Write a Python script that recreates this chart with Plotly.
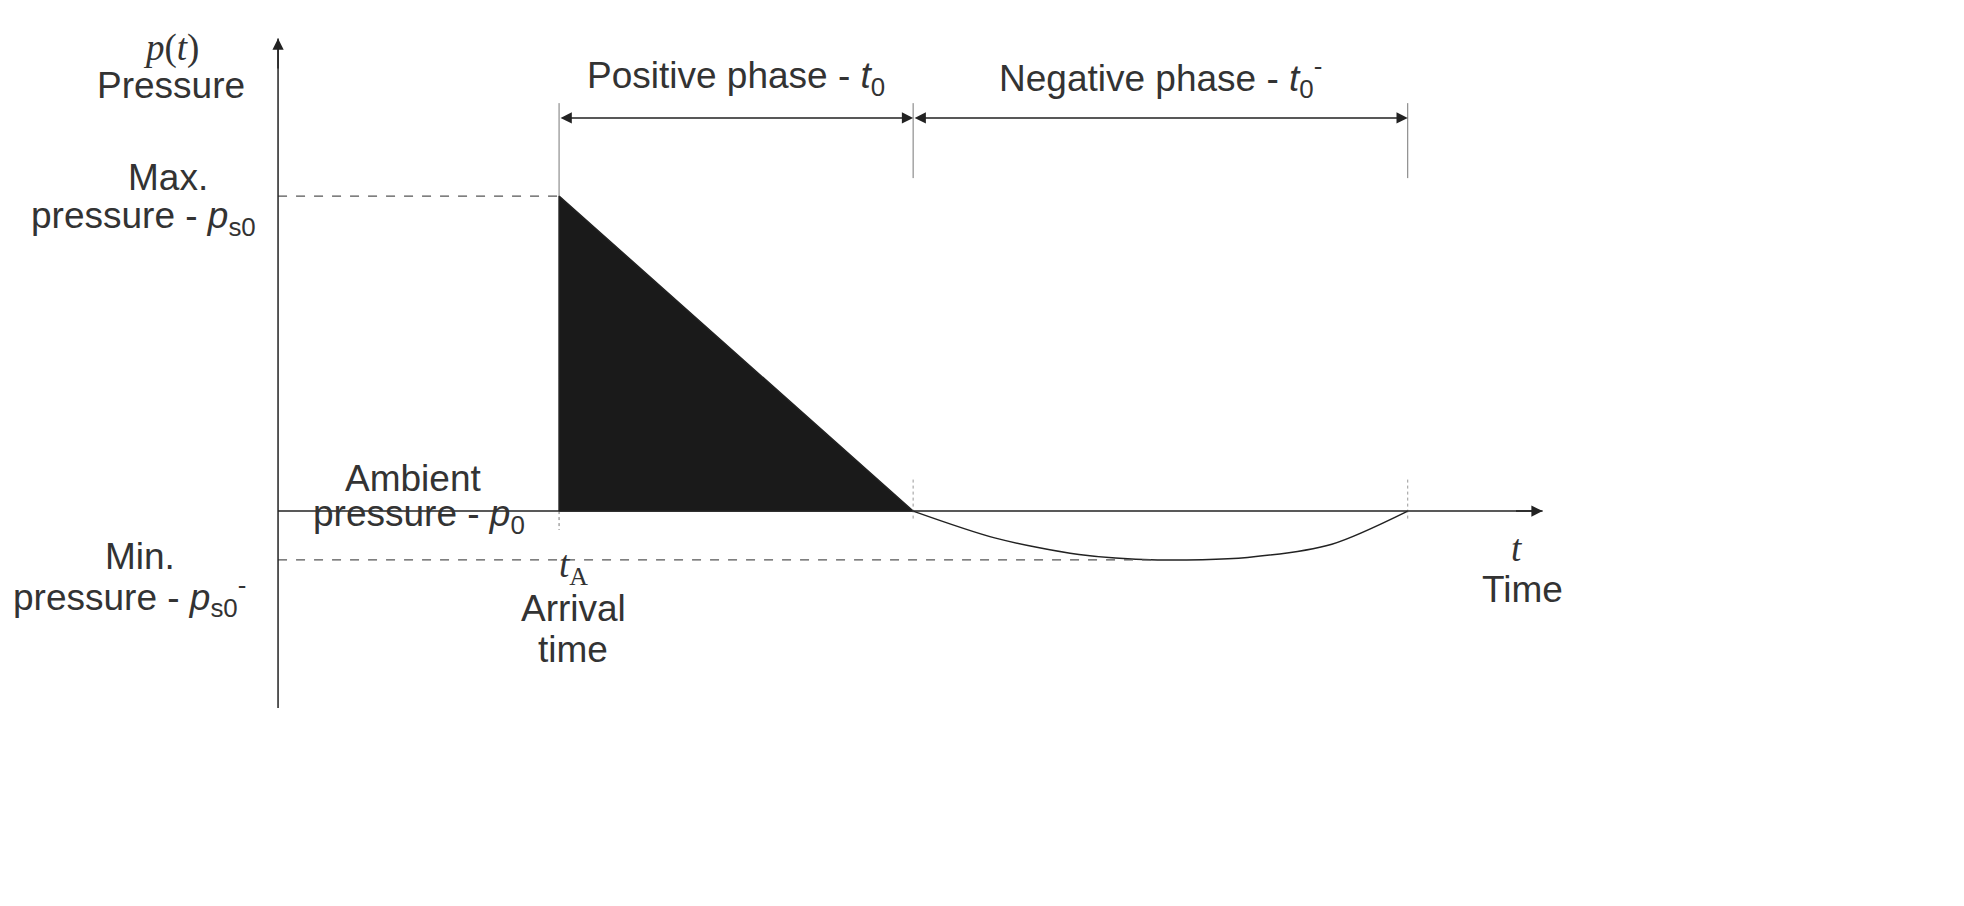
import plotly.graph_objects as go

# data (time units, pressure units)
t_A = 1.0
t_pos_end = 2.26
t_neg_end = 4.02
p_peak = 1.0
p_min = -0.155
neg_t = [2.26, 2.55, 2.85, 3.13, 3.45, 3.75, 4.02]
neg_p = [0.0, -0.085, -0.138, -0.155, -0.147, -0.105, 0.0]
x_axis_end = 4.5
y_axis_top = 1.50
y_axis_bottom = -0.625
arrow_y = 1.248
line_top = 1.295
line_bot = 1.057

C = "#222"
F = dict(family="Liberation Sans, Arial", size=37, color="#333")
S = dict(family="Liberation Serif, Times New Roman", size=37, color="#333")

fig = go.Figure()
fig.add_trace(go.Scatter(x=[t_A, t_A, t_pos_end, t_A], y=[0, p_peak, 0, 0], fill="toself",
                         fillcolor="#1a1a1a", line=dict(color=C, width=1.5), mode="lines"))
fig.add_trace(go.Scatter(x=neg_t, y=neg_p, mode="lines", line=dict(color=C, width=1.5, shape="spline", smoothing=0.8)))

shapes = [
    dict(type="line", x0=0, x1=t_A, y0=p_peak, y1=p_peak, line=dict(color="#555", width=1.3, dash="dash")),
    dict(type="line", x0=0, x1=3.13, y0=p_min, y1=p_min, line=dict(color="#555", width=1.3, dash="dash")),
    dict(type="line", x0=t_A, x1=t_A, y0=p_peak, y1=line_top, line=dict(color="#777", width=1)),
    dict(type="line", x0=t_pos_end, x1=t_pos_end, y0=line_bot, y1=line_top, line=dict(color="#777", width=1)),
    dict(type="line", x0=t_neg_end, x1=t_neg_end, y0=line_bot, y1=line_top, line=dict(color="#777", width=1)),
    dict(type="line", x0=t_A, x1=t_A, y0=0, y1=-0.06, line=dict(color="#777", width=1, dash="dot")),
    dict(type="line", x0=t_pos_end, x1=t_pos_end, y0=0.1, y1=-0.03, line=dict(color="#999", width=1, dash="dot")),
    dict(type="line", x0=t_neg_end, x1=t_neg_end, y0=0.1, y1=-0.03, line=dict(color="#999", width=1, dash="dot")),
    dict(type="line", x0=0, x1=0, y0=y_axis_bottom, y1=y_axis_top, line=dict(color=C, width=1.5)),
    dict(type="line", x0=0, x1=x_axis_end, y0=0, y1=0, line=dict(color=C, width=1.5)),
]

ann = []
def arrow(x, y, ax, ay, side="end"):
    ann.append(dict(x=x, y=y, ax=ax, ay=ay, xref="x", yref="y", axref="x", ayref="y",
                    showarrow=True, arrowhead=2, startarrowhead=2, arrowside=side,
                    arrowsize=1.5, startarrowsize=1.5, arrowwidth=1.5, arrowcolor=C, text=""))
arrow(0, y_axis_top, 0, y_axis_top - 0.1)
arrow(x_axis_end, 0, x_axis_end - 0.1, 0)
mid1 = (t_A + t_pos_end) / 2
mid2 = (t_pos_end + t_neg_end) / 2
arrow(t_pos_end, arrow_y, t_A, arrow_y, "end+start")
arrow(t_neg_end, arrow_y, t_pos_end, arrow_y, "end+start")

def txt(x, y, s, font=F, xa="center"):
    ann.append(dict(x=x, y=y, xref="x", yref="y", text=s, showarrow=False, font=font, xanchor=xa))
txt(-0.38, 1.47, "<i>p</i>(<i>t</i>)", S)
txt(-0.38, 1.35, "Pressure")
txt(-0.39, 1.06, "Max.")
txt(-0.48, 0.93, "pressure - <i>p</i><sub>s0</sub>")
txt(0.48, 0.105, "Ambient")
txt(0.5, -0.015, "pressure - <i>p</i><sub>0</sub>")
txt(-0.49, -0.145, "Min.")
txt(-0.53, -0.27, "pressure - <i>p</i><sub>s0</sub><sup>-</sup>")
txt(1.05, -0.18, "<i>t</i><sub>A</sub>", S)
txt(1.05, -0.31, "Arrival")
txt(1.05, -0.44, "time")
txt(4.41, -0.12, "<i>t</i>", S)
txt(4.43, -0.25, "Time")
txt(mid1, 1.375, "Positive phase - <i>t</i><sub>0</sub>")
txt(mid2, 1.375, "Negative phase - <i>t</i><sub>0</sub><sup>-</sup>")

fig.update_layout(width=1964, height=906, margin=dict(l=0, r=0, t=0, b=0),
                  plot_bgcolor="white", paper_bgcolor="white", showlegend=False,
                  shapes=shapes, annotations=ann,
                  xaxis=dict(range=[-0.961, 6.028], visible=False),
                  yaxis=dict(range=[-1.279, 1.597], visible=False))
fig.write_html("out.html")
